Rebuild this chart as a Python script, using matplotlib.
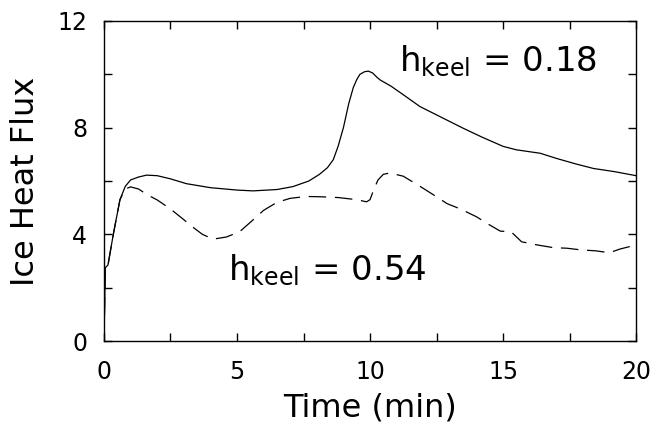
import matplotlib
matplotlib.use("Agg")
import matplotlib.pyplot as plt
from matplotlib.ticker import MultipleLocator

# h_keel = 0.18 (solid)
t_018 = [0, 0.05, 0.15, 0.35, 0.6, 0.8, 1.0, 1.3, 1.6, 2.0, 2.5, 3.1, 4.0, 5.0, 5.6,
         6.5, 7.1, 7.7, 8.1, 8.4, 8.62, 8.8, 9.0, 9.2, 9.37, 9.5, 9.62, 9.8, 9.94,
         10.1, 10.25, 10.38, 10.8, 11.3, 11.88, 12.76, 13.5, 14.2, 15.0, 15.5, 16.4,
         17.0, 17.7, 18.4, 19.2, 20.0]
q_018 = [0, 2.75, 2.85, 4.0, 5.3, 5.8, 6.04, 6.15, 6.22, 6.2, 6.08, 5.9, 5.75, 5.66, 5.63,
         5.68, 5.79, 6.0, 6.25, 6.5, 6.8, 7.3, 8.0, 8.9, 9.5, 9.8, 10.0, 10.1, 10.12,
         10.05, 9.9, 9.79, 9.55, 9.2, 8.79, 8.35, 7.98, 7.65, 7.3, 7.17, 7.04,
         6.85, 6.65, 6.47, 6.35, 6.2]

# h_keel = 0.54 (dashed)
t_054 = [0, 0.05, 0.15, 0.35, 0.6, 0.8, 1.0, 1.3, 1.6, 2.0, 2.5, 3.0, 3.3, 3.7, 4.1,
         4.6, 5.1, 5.5, 6.0, 6.5, 7.0, 7.6, 8.1, 8.8, 9.5, 9.87, 10.0, 10.15, 10.3,
         10.5, 10.75, 11.25, 11.88, 12.5, 12.9, 13.4, 14.0, 14.5, 14.9, 15.3, 15.7,
         16.3, 16.9, 17.4, 17.9, 18.5, 19.0, 19.4, 20.0]
q_054 = [0, 2.75, 2.85, 4.0, 5.3, 5.7, 5.78, 5.7, 5.5, 5.29, 4.95, 4.55, 4.3, 4.0, 3.82,
         3.9, 4.1, 4.45, 4.9, 5.2, 5.35, 5.42, 5.41, 5.38, 5.3, 5.22, 5.3, 5.7, 6.04,
         6.25, 6.3, 6.18, 5.8, 5.41, 5.15, 4.95, 4.66, 4.35, 4.12, 4.1, 3.72,
         3.6, 3.5, 3.48, 3.42, 3.38, 3.31, 3.45, 3.6]

fig = plt.figure(figsize=(6.52, 4.25), dpi=100)
ax = fig.add_axes([0.1595, 0.1976, 0.816, 0.753])

ax.plot(t_018, q_018, color="black", lw=0.9)
ax.plot(t_054, q_054, color="black", lw=0.9, dashes=(14, 7))

ax.set_xlim(0, 20)
ax.set_ylim(0, 12)
ax.xaxis.set_major_locator(MultipleLocator(5))
ax.xaxis.set_minor_locator(MultipleLocator(2.5))
ax.yaxis.set_major_locator(MultipleLocator(4))
ax.yaxis.set_minor_locator(MultipleLocator(2))
ax.tick_params(which="both", direction="in", top=True, right=True,
               length=6, width=1, labelsize=17)
ax.tick_params(axis="x", pad=14)
ax.tick_params(axis="y", pad=12)
for s in ax.spines.values():
    s.set_linewidth(1)

ax.set_xlabel("Time (min)", fontsize=23, labelpad=6)
ax.set_ylabel("Ice Heat Flux", fontsize=23, labelpad=12)

ax.text(11.1, 10.1, r"$\mathregular{h_{keel}}$ = 0.18", fontsize=24.5)
ax.text(4.66, 2.29, r"$\mathregular{h_{keel}}$ = 0.54", fontsize=24.5)

fig.savefig("out.png", dpi=100)
